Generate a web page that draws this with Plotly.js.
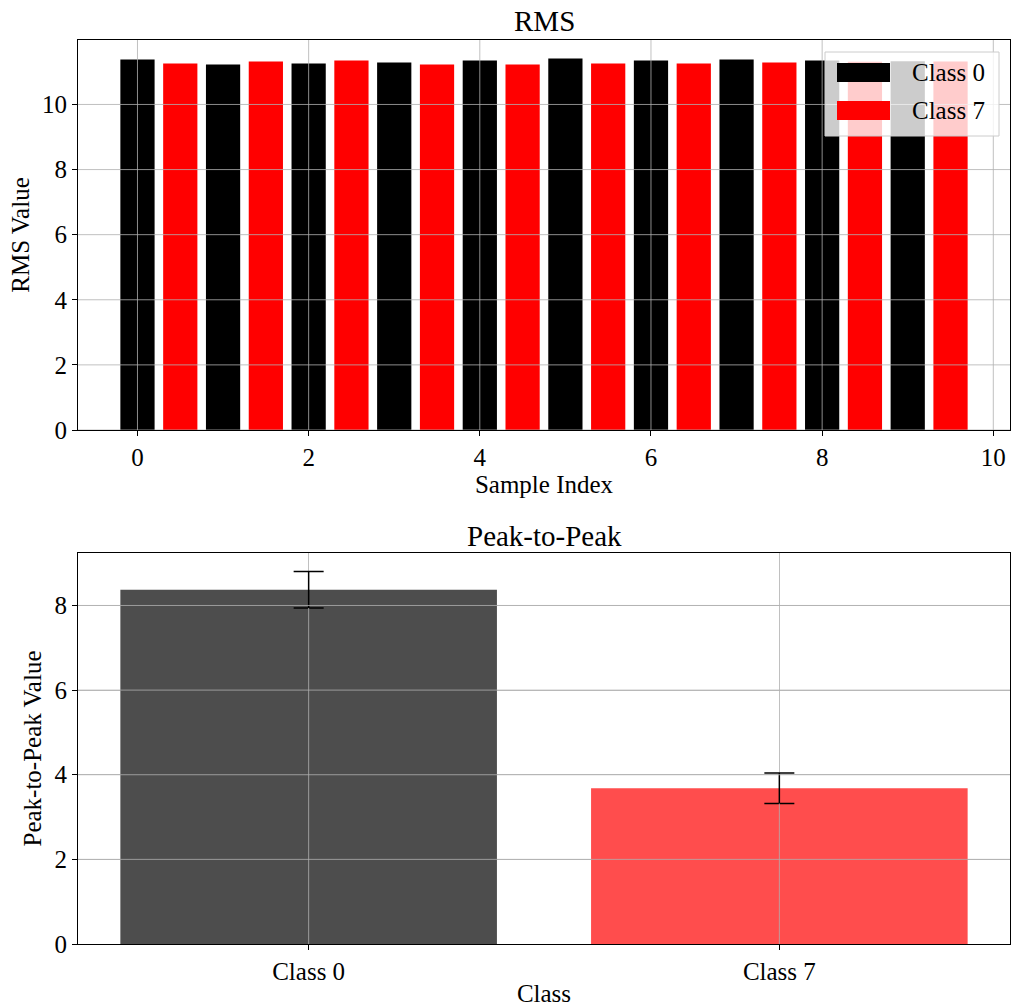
<!DOCTYPE html>
<html>
<head>
<meta charset="utf-8">
<script src="https://cdn.plot.ly/plotly-3.0.1.min.js"></script>
<style>html,body{margin:0;padding:0;background:#fff;}</style>
</head>
<body>
<div id="chart" style="width:1013px;height:1007px;"></div>
<script>
// ---- data ----
const sampleIndex = [0, 1, 2, 3, 4, 5, 6, 7, 8, 9];
const rmsClass0 = [11.38, 11.23, 11.26, 11.29, 11.35, 11.41, 11.35, 11.38, 11.35, 11.33];
const rmsClass7 = [11.26, 11.32, 11.35, 11.23, 11.23, 11.26, 11.26, 11.29, 11.31, 11.32];
const classLabels = ['Class 0', 'Class 7'];
const p2pMean = [8.37, 3.68];
const p2pStd = [0.43, 0.36];
const rmsXTicks = [0, 2, 4, 6, 8, 10];
const rmsYTicks = [0, 2, 4, 6, 8, 10];
const p2pYTicks = [0, 2, 4, 6, 8];
const legendNames = ['Class 0', 'Class 7'];

const FONT = 'Liberation Serif, Times New Roman, serif';
const GRID = '#b0b0b0';
const BLACK = '#000000', RED = '#ff0000';
const DARK70 = 'rgb(77,77,77)', RED70 = 'rgb(255,77,77)';

const traces = [
  {type: 'bar', x: sampleIndex, y: rmsClass0, width: 0.4, marker: {color: BLACK}, name: legendNames[0],
   xaxis: 'x', yaxis: 'y', showlegend: false, hoverinfo: 'x+y'},
  {type: 'bar', x: sampleIndex.map(i => i + 0.5), y: rmsClass7, width: 0.4, marker: {color: RED}, name: legendNames[1],
   xaxis: 'x', yaxis: 'y', showlegend: false, hoverinfo: 'x+y'},
  {type: 'bar', x: classLabels, y: p2pMean, width: 0.8, marker: {color: [DARK70, RED70], line: {width: 0}},
   error_y: {type: 'data', array: p2pStd, visible: true, color: '#000', thickness: 1.5, width: 15},
   xaxis: 'x2', yaxis: 'y2', showlegend: false}
];

const axisCommon = {
  showline: true, linecolor: '#000', linewidth: 1, mirror: true,
  ticks: 'outside', ticklen: 5, tickwidth: 1, tickcolor: '#000',
  zeroline: false, tickfont: {family: FONT, size: 25, color: '#000'},
  fixedrange: true
};

const shapes = [];
// top subplot grid drawn over bars (as in matplotlib)
rmsXTicks.forEach(v => shapes.push({type: 'line', xref: 'x', yref: 'y domain', x0: v, x1: v, y0: 0, y1: 1,
  line: {color: GRID, width: 0.8}, layer: 'above'}));
rmsYTicks.forEach(v => shapes.push({type: 'line', xref: 'x domain', yref: 'y', x0: 0, x1: 1, y0: v, y1: v,
  line: {color: GRID, width: 0.8}, layer: 'above'}));
// bottom subplot grid over bars
p2pYTicks.slice(1).forEach(v => shapes.push({type: 'line', xref: 'x2 domain', yref: 'y2', x0: 0, x1: 1, y0: v, y1: v,
  line: {color: GRID, width: 0.8}, layer: 'above'}));
classLabels.forEach((c, i) => shapes.push({type: 'line', xref: 'x2', yref: 'y2', x0: c, x1: c, y0: 0, y1: p2pMean[i] - p2pStd[i],
  line: {color: GRID, width: 0.8}, layer: 'above'}));

// legend (matplotlib style)
const L = px => (px - 78) / 932;
const T = py => (944 - py) / 904;
shapes.push({type: 'rect', xref: 'paper', yref: 'paper', x0: L(825), x1: L(999), y0: T(136), y1: T(52),
  fillcolor: 'rgba(255,255,255,0.8)', line: {color: '#cccccc', width: 1}, layer: 'above'});
shapes.push({type: 'rect', xref: 'paper', yref: 'paper', x0: L(837), x1: L(890), y0: T(82), y1: T(63),
  fillcolor: BLACK, line: {width: 0}, layer: 'above'});
shapes.push({type: 'rect', xref: 'paper', yref: 'paper', x0: L(837), x1: L(890), y0: T(120), y1: T(101),
  fillcolor: RED, line: {width: 0}, layer: 'above'});

const annotations = [
  {text: 'RMS', xref: 'paper', yref: 'paper', x: 0.5, y: T(21), xanchor: 'center', yanchor: 'middle',
   showarrow: false, font: {family: FONT, size: 29, color: '#000'}},
  {text: 'Peak-to-Peak', xref: 'paper', yref: 'paper', x: 0.5, y: T(536), xanchor: 'center', yanchor: 'middle',
   showarrow: false, font: {family: FONT, size: 29, color: '#000'}},
  {text: legendNames[0], xref: 'paper', yref: 'paper', x: L(910), y: T(73), xanchor: 'left', yanchor: 'middle',
   showarrow: false, font: {family: FONT, size: 25, color: '#000'}},
  {text: legendNames[1], xref: 'paper', yref: 'paper', x: L(910), y: T(111), xanchor: 'left', yanchor: 'middle',
   showarrow: false, font: {family: FONT, size: 25, color: '#000'}}
];

const layout = {
  width: 1013, height: 1007,
  margin: {l: 78, r: 3, t: 40, b: 63},
  paper_bgcolor: '#fff', plot_bgcolor: '#fff',
  barmode: 'overlay',
  showlegend: false,
  font: {family: FONT, color: '#000'},
  xaxis: Object.assign({}, axisCommon, {
    domain: [0, 1], anchor: 'y', range: [-0.695, 10.195], tickvals: rmsXTicks, showgrid: false,
    title: {text: 'Sample Index', font: {family: FONT, size: 25, color: '#000'}, standoff: 0}
  }),
  yaxis: Object.assign({}, axisCommon, {
    domain: [T(430), 1], anchor: 'x', range: [0, 11.98], tickvals: rmsYTicks, showgrid: false,
    title: {text: 'RMS Value', font: {family: FONT, size: 25, color: '#000'}, standoff: 5}
  }),
  xaxis2: Object.assign({}, axisCommon, {
    domain: [0, 1], anchor: 'y2', type: 'category', range: [-0.49, 1.49], showgrid: true, gridcolor: GRID, gridwidth: 0.8,
    title: {text: 'Class', font: {family: FONT, size: 25, color: '#000'}, standoff: 7}
  }),
  yaxis2: Object.assign({}, axisCommon, {
    domain: [0, T(553)], anchor: 'x2', range: [0, 9.24], tickvals: p2pYTicks, showgrid: true, gridcolor: GRID, gridwidth: 0.8,
    title: {text: 'Peak-to-Peak Value', font: {family: FONT, size: 25, color: '#000'}, standoff: 5}
  }),
  shapes: shapes,
  annotations: annotations
};

Plotly.newPlot('chart', traces, layout, {displayModeBar: false, staticPlot: true});
</script>
</body>
</html>
